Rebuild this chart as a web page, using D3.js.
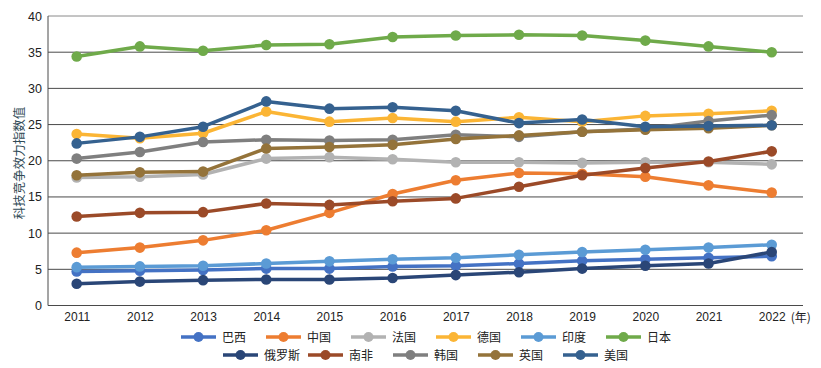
<!DOCTYPE html>
<html><head><meta charset="utf-8">
<script src="https://cdn.jsdelivr.net/npm/d3@7"></script>
<style>
body{margin:0;background:#fff;}
text{font-family:"Liberation Sans",Arial,"Noto Sans CJK SC",sans-serif;}
.cjk{font-family:"Noto Sans CJK SC",sans-serif;}
</style></head>
<body><svg id="c" width="821" height="368"></svg>
<script>
const years = ["2011","2012","2013","2014","2015","2016","2017","2018","2019","2020","2021","2022"];
const yTicks = [0,5,10,15,20,25,30,35,40];
const seriesNames = ["巴西","中国","法国","德国","印度","日本","俄罗斯","南非","韩国","英国","美国"];
const seriesColors = ["#4472C4","#ED7D31","#B2B2B2","#FBB535","#5B9BD5","#6FAA4A","#2A4677","#9B4A28","#7F7F7F","#94733A","#35618F"];
const brazil = [4.7,4.8,4.9,5.1,5.1,5.4,5.5,5.8,6.2,6.4,6.6,6.8];
const china = [7.3,8.0,9.0,10.4,12.8,15.4,17.3,18.3,18.2,17.8,16.6,15.6];
const france = [17.7,17.8,18.1,20.3,20.5,20.2,19.8,19.8,19.7,19.8,19.8,19.5];
const germany = [23.7,23.1,23.8,26.8,25.4,25.9,25.4,26.0,25.4,26.2,26.5,26.9];
const india = [5.3,5.4,5.5,5.8,6.1,6.4,6.6,7.0,7.4,7.7,8.0,8.4];
const japan = [34.4,35.8,35.2,36.0,36.1,37.1,37.3,37.4,37.3,36.6,35.8,35.0];
const russia = [3.0,3.3,3.5,3.6,3.6,3.8,4.2,4.6,5.1,5.5,5.8,7.4];
const southAfrica = [12.3,12.8,12.9,14.1,13.9,14.4,14.8,16.4,18.0,19.0,19.9,21.3];
const korea = [20.3,21.2,22.6,22.9,22.8,22.9,23.6,23.3,24.0,24.4,25.5,26.3];
const uk = [18.0,18.4,18.5,21.7,21.9,22.2,23.0,23.5,24.0,24.3,24.5,24.9];
const usa = [22.4,23.3,24.7,28.2,27.2,27.4,26.9,25.2,25.7,24.7,24.8,24.9];
const seriesValues = [brazil,china,france,germany,india,japan,russia,southAfrica,korea,uk,usa];

const svg = d3.select("#c");
const pLeft = 48, pRight = 803, pTop = 16, pBottom = 305.5;
const x = d3.scalePoint().domain(years).range([76.7, 771.7]);
const y = d3.scaleLinear().domain([0,40]).range([pBottom, pTop]);

// gridlines
svg.append("g").selectAll("line").data(yTicks).join("line")
  .attr("x1", pLeft).attr("x2", pRight)
  .attr("y1", d => y(d)).attr("y2", d => y(d))
  .attr("stroke", d => d === 40 ? "#8a8a8a" : "#4a4a4a").attr("stroke-width", 1);
// left axis line
svg.append("line").attr("x1", pLeft).attr("x2", pLeft).attr("y1", y(40)).attr("y2", y(0))
  .attr("stroke", "#4a4a4a").attr("stroke-width", 1);

// y axis
const yAxis = svg.append("g").attr("transform", `translate(${pLeft},0)`)
  .call(d3.axisLeft(y).tickValues(yTicks).tickSize(0).tickPadding(6));
yAxis.select(".domain").remove();
yAxis.selectAll("text").attr("font-size", 12.5).attr("fill", "#222");

// x axis
const xAxis = svg.append("g").attr("transform", `translate(0,${pBottom})`)
  .call(d3.axisBottom(x).tickSize(0).tickPadding(7));
xAxis.select(".domain").remove();
xAxis.selectAll("text").attr("font-size", 12).attr("fill", "#222");
svg.append("text").attr("class","cjk").attr("x", x("2022") + 19).attr("y", 322)
  .attr("font-size", 12).attr("fill", "#222").text("(年)");

// y title
svg.append("text").attr("class","cjk")
  .attr("transform", "translate(24,163) rotate(-90)")
  .attr("text-anchor", "middle").attr("font-size", 12.5).attr("fill", "#2f4a56")
  .text("科技竞争效力指数值");

// lines
const line = d3.line().x((d,i) => x(years[i])).y(d => y(d));
seriesValues.forEach((vals, k) => {
  const g = svg.append("g");
  g.append("path").datum(vals).attr("d", line).attr("fill", "none")
    .attr("stroke", seriesColors[k]).attr("stroke-width", 3.5).attr("stroke-linejoin", "round");
  g.selectAll("circle").data(vals).join("circle")
    .attr("cx", (d,i) => x(years[i])).attr("cy", d => y(d)).attr("r", 5.3)
    .attr("fill", seriesColors[k]);
});

// legend
const legendRows = [{start:181, y:337, items:[0,1,2,3,4,5]}, {start:223, y:355, items:[6,7,8,9,10]}];
legendRows.forEach(row => {
  row.items.forEach((k, j) => {
    const lx = row.start + j * 85;
    const g = svg.append("g");
    g.append("line").attr("x1", lx).attr("x2", lx + 35).attr("y1", row.y).attr("y2", row.y)
      .attr("stroke", seriesColors[k]).attr("stroke-width", 3.5);
    g.append("circle").attr("cx", lx + 17.5).attr("cy", row.y).attr("r", 5).attr("fill", seriesColors[k]);
    g.append("text").attr("class","cjk").attr("x", lx + 41).attr("y", row.y + 4.5)
      .attr("font-size", 12).attr("fill", "#222").text(seriesNames[k]);
  });
});
</script></body></html>
